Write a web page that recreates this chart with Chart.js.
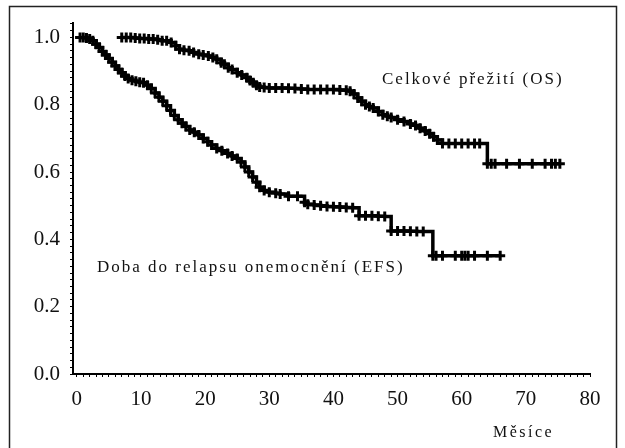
<!DOCTYPE html>
<html>
<head>
<meta charset="utf-8">
<script src="https://cdn.jsdelivr.net/npm/chart.js@4.4.1/dist/chart.umd.min.js"></script>
<style>
  body { margin: 0; background: #fff; }
  canvas { display: block; }
</style>
</head>
<body>
<canvas id="graf" width="625" height="448"></canvas>
<script>
// Celkové přežití (OS): měsíce / pravděpodobnost
const osMesice = [7, 7.7, 8.4, 9.1, 9.8, 10.5, 11.2, 11.9, 12.6, 13.3, 14, 14.7, 15.4, 16, 16.7, 17.5, 18.2, 19, 19.7, 20.5, 21.2, 21.8, 22.5, 23, 23.6, 24.2, 25, 25.7, 26.5, 27, 27.5, 28, 28.5, 29.2, 30, 31, 32, 33, 34, 35, 36, 37, 38, 39, 40, 41, 42, 42.6, 43.2, 43.8, 44.4, 45, 45.6, 46.2, 47, 47.7, 48.4, 49, 50, 51, 52, 52.8, 53.5, 54.3, 55, 55.6, 56.2, 57, 58, 59, 60, 61, 62, 62.8, 64, 64.6, 65.2, 67, 69, 71, 73, 74, 74.6, 75.3];
const osHodnoty = [1.0, 1.0, 1.0, 0.998, 0.997, 0.997, 0.995, 0.995, 0.993, 0.99, 0.99, 0.985, 0.975, 0.965, 0.962, 0.96, 0.955, 0.95, 0.948, 0.945, 0.94, 0.935, 0.925, 0.92, 0.91, 0.905, 0.895, 0.888, 0.88, 0.872, 0.865, 0.858, 0.853, 0.851, 0.85, 0.85, 0.85, 0.849, 0.848, 0.847, 0.845, 0.845, 0.845, 0.845, 0.845, 0.844, 0.843, 0.84, 0.832, 0.82, 0.81, 0.8, 0.795, 0.79, 0.78, 0.77, 0.766, 0.762, 0.755, 0.75, 0.743, 0.738, 0.73, 0.722, 0.714, 0.705, 0.695, 0.685, 0.685, 0.685, 0.685, 0.685, 0.685, 0.685, 0.625, 0.625, 0.625, 0.625, 0.625, 0.625, 0.625, 0.625, 0.625, 0.625];

// Doba do relapsu onemocnění (EFS)
const efsMesice = [0.5, 1, 1.5, 2, 2.5, 3, 3.5, 4, 4.5, 5, 5.5, 6, 6.5, 7, 7.5, 8, 8.6, 9.2, 9.8, 10.4, 11, 11.6, 12.2, 12.8, 13.4, 14, 14.6, 15.2, 15.8, 16.4, 17, 17.6, 18.3, 19, 19.7, 20.4, 21, 21.8, 22.6, 23.5, 24.2, 25, 25.6, 26.2, 26.8, 27.4, 28, 28.5, 29.2, 30, 31, 31.7, 33, 34.4, 35.5, 36, 37, 38, 39, 40, 41, 42, 43, 44, 45, 46, 47, 48, 49, 50, 51, 52, 53, 54, 55.5, 56, 57, 59, 60, 60.5, 61, 62, 64, 66];
const efsHodnoty = [1.0, 1.0, 0.998, 0.995, 0.99, 0.98, 0.97, 0.958, 0.948, 0.937, 0.926, 0.915, 0.905, 0.895, 0.885, 0.878, 0.873, 0.87, 0.867, 0.865, 0.858, 0.848, 0.835, 0.822, 0.81, 0.797, 0.783, 0.768, 0.755, 0.745, 0.735, 0.725, 0.718, 0.71, 0.7, 0.69, 0.68, 0.67, 0.663, 0.655, 0.648, 0.64, 0.63, 0.615, 0.6, 0.585, 0.57, 0.555, 0.545, 0.54, 0.537, 0.535, 0.528, 0.528, 0.51, 0.504, 0.502, 0.5, 0.498, 0.497, 0.496, 0.495, 0.494, 0.47, 0.47, 0.47, 0.469, 0.468, 0.425, 0.425, 0.425, 0.424, 0.423, 0.423, 0.351, 0.351, 0.351, 0.351, 0.351, 0.351, 0.351, 0.351, 0.351, 0.351];

const xTicks = [0, 10, 20, 30, 40, 50, 60, 70, 80];
const yTicks = [0, 0.2, 0.4, 0.6, 0.8, 1.0];

function body(mesice, hodnoty) {
    return mesice.map((m, i) => ({ x: m, y: hodnoty[i] }));
}

// drobné značky na osách, popisky jen u hlavních hodnot
function znacky(hlavni, krok, od, po) {
    const out = [];
    for (let v = od; v <= po + 1e-9; v += krok) {
        const r = Math.round(v * 1000) / 1000;
        out.push({ value: r, major: hlavni.some(h => Math.abs(h - r) < 1e-6) });
    }
    return out;
}

const serif = '"Liberation Serif", "DejaVu Serif", serif';

// rámeček a popisky v grafu
const popisky = {
    id: 'popisky',
    afterDraw(chart) {
        const c = chart.ctx;
        c.save();
        c.strokeStyle = '#222';
        c.lineWidth = 1.5;
        c.strokeRect(9.5, 6.5, 607, 460);
        c.fillStyle = '#111';
        c.font = '17px ' + serif;
        c.textBaseline = 'middle';
        c.letterSpacing = '2px';
        c.fillText('Celkové přežití (OS)', 382, 80);
        c.fillText('Doba do relapsu onemocnění (EFS)', 97, 268);
        c.font = '16px ' + serif;
        c.letterSpacing = '2.5px';
        c.fillText('Měsíce', 493, 433);
        c.restore();
    }
};

const datasetStyl = {
    showLine: true,
    stepped: true,
    borderColor: '#000',
    borderWidth: 3.5,
    pointStyle: 'cross',
    pointRadius: 5,
    pointBorderWidth: 3,
    pointBorderColor: '#000',
    pointBackgroundColor: '#000'
};

new Chart(document.getElementById('graf'), {
    type: 'scatter',
    data: {
        datasets: [
            Object.assign({ label: 'OS', data: body(osMesice, osHodnoty) }, datasetStyl),
            Object.assign({ label: 'EFS', data: body(efsMesice, efsHodnoty) }, datasetStyl)
        ]
    },
    options: {
        responsive: false,
        animation: false,
        layout: { padding: { top: 20, right: 35, left: 0, bottom: 0 } },
        plugins: { legend: { display: false }, tooltip: { enabled: false } },
        scales: {
            x: {
                type: 'linear',
                min: -0.6,
                max: 80,
                afterBuildTicks: s => { s.ticks = znacky(xTicks, 1, 0, 80); },
                afterFit: s => { s.height = 74; },
                grid: { display: true, drawOnChartArea: false, drawTicks: true, tickLength: 3, color: '#000', lineWidth: 1 },
                border: { display: true, color: '#000', width: 2 },
                ticks: {
                    autoSkip: false, maxRotation: 0, color: '#111', padding: 10,
                    font: { family: serif, size: 21 },
                    callback: v => xTicks.includes(v) ? String(v) : ''
                }
            },
            y: {
                min: 0,
                max: 1.044,
                afterBuildTicks: s => { s.ticks = znacky(yTicks, 0.02, 0, 1.04); },
                afterFit: s => { s.width = 73; },
                grid: { display: true, drawOnChartArea: false, drawTicks: true, tickLength: 3, color: '#000', lineWidth: 1 },
                border: { display: true, color: '#000', width: 2 },
                ticks: {
                    autoSkip: false, color: '#111', padding: 10,
                    font: { family: serif, size: 21 },
                    callback: v => yTicks.some(t => Math.abs(t - v) < 1e-6) ? Number(v).toFixed(1) : ''
                }
            }
        }
    },
    plugins: [popisky]
});
</script>
</body>
</html>
